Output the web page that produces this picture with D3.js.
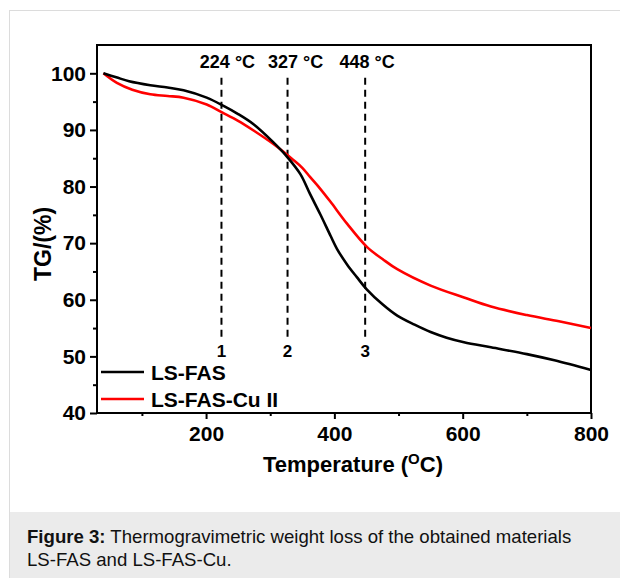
<!DOCTYPE html>
<html><head><meta charset="utf-8">
<script src="https://cdn.jsdelivr.net/npm/d3@7"></script>
<style>
body{margin:0;background:#fff;}
svg{display:block;font-family:"Liberation Sans",Arial,Helvetica,sans-serif;}
</style></head>
<body>
<script>
// Data
const tempLSFAS = [40,60,80,113,140,165,201,228,250,274,305,326,347,362,378,394,404,420,435,450,475,498,525,550,575,602,644,700,743,800];
const tgLSFAS   = [100,99.3,98.6,97.9,97.5,97.0,95.7,94.2,92.8,91.0,87.8,85.3,82.2,78.7,75.1,71.3,69.0,66.2,64.0,61.9,59.2,57.2,55.6,54.3,53.3,52.5,51.6,50.4,49.3,47.6];
const tempLSFASCu = [40,61,85,113,140,165,201,225,250,274,305,336,350,362,378,394,420,451,475,498,550,602,644,700,750,800];
const tgLSFASCu   = [100,98.3,97.1,96.3,96.0,95.7,94.5,93.1,91.6,89.9,87.5,84.7,83.3,81.7,79.6,77.3,73.4,69.3,67.2,65.4,62.5,60.4,58.8,57.3,56.2,55.0];
const seriesNames = ["LS-FAS","LS-FAS-Cu II"];
const seriesColors = ["#000000","#ff0000"];
const markerTemps = [224,327,448];
const markerLabels = ["224 \u00B0C","327 \u00B0C","448 \u00B0C"];
const markerNumbers = ["1","2","3"];
const xTicks = [200,400,600,800];
const xMinorTicks = [100,300,500,700];
const yTicks = [40,50,60,70,80,90,100];
const yMinorTicks = [45,55,65,75,85,95];

(function(){
const W = 620, H = 578;
const svg = d3.select("body").append("svg").attr("width",W).attr("height",H);

// frame and caption
svg.append("rect").attr("x",9.5).attr("y",10.5).attr("width",620).attr("height",580)
  .attr("fill","#fff").attr("stroke","#dcdcdc").attr("stroke-width",1);
svg.append("rect").attr("x",10).attr("y",512).attr("width",610).attr("height",66).attr("fill","#ebebeb");
const cap = svg.append("text").attr("x",27).attr("y",543).attr("font-size",18.6).attr("fill","#111");
cap.append("tspan").attr("font-weight","bold").text("Figure 3:");
cap.append("tspan").text(" Thermogravimetric weight loss of the obtained materials");
svg.append("text").attr("x",27).attr("y",566).attr("font-size",18.6).attr("fill","#111").text("LS-FAS and LS-FAS-Cu.");

const pL = 97, pR = 591, pT = 45, pB = 413;
const x = d3.scaleLinear().domain([30,800]).range([pL,pR]);
const y = d3.scaleLinear().domain([40,105]).range([pB,pT]);

const g = svg.append("g");

// box
g.append("rect").attr("x",pL).attr("y",pT).attr("width",pR-pL).attr("height",pB-pT)
  .attr("fill","none").attr("stroke","#000").attr("stroke-width",2);

// x axis
const xAxis = d3.axisBottom(x).tickValues(xTicks).tickSize(6).tickPadding(7).tickFormat(d3.format("d"));
const xa = g.append("g").attr("transform",`translate(0,${pB})`).call(xAxis);
const xm = g.append("g").attr("transform",`translate(0,${pB})`).call(d3.axisBottom(x).tickValues(xMinorTicks).tickSize(3).tickFormat(""));
// y axis
const yAxis = d3.axisLeft(y).tickValues(yTicks).tickSize(7).tickPadding(4).tickFormat(d3.format("d"));
const ya = g.append("g").attr("transform",`translate(${pL},0)`).call(yAxis);
const ym = g.append("g").attr("transform",`translate(${pL},0)`).call(d3.axisLeft(y).tickValues(yMinorTicks).tickSize(4).tickFormat(""));
[xa,xm,ya,ym].forEach(a=>{
  a.select(".domain").remove();
  a.selectAll("line").attr("stroke","#000").attr("stroke-width",2);
  a.selectAll("text").attr("font-size",21).attr("font-weight","bold").attr("fill","#000")
   .attr("font-family","'Liberation Sans',Arial,sans-serif");
});

// axis titles
const xt = g.append("text").attr("x",(pL+pR)/2+9).attr("y",472).attr("text-anchor","middle")
  .attr("font-size",22).attr("font-weight","bold");
xt.append("tspan").text("Temperature (");
xt.append("tspan").attr("font-size",15).attr("dy",-8).text("O");
xt.append("tspan").attr("dy",8).text("C)");
g.append("text").attr("transform","translate(51,244) rotate(-90)").attr("text-anchor","middle")
  .attr("font-size",23).attr("font-weight","bold").text("TG/(%)");

// dashed markers
const labelOffsets = [6,8,2];
markerTemps.forEach((t,i)=>{
  g.append("line").attr("x1",x(t)).attr("x2",x(t)).attr("y1",y(99.2)).attr("y2",y(53.1))
    .attr("stroke","#000").attr("stroke-width",2).attr("stroke-dasharray","7,5");
  g.append("text").attr("x",x(t)+labelOffsets[i]).attr("y",68).attr("text-anchor","middle")
    .attr("font-size",18).attr("font-weight","bold").text(markerLabels[i]);
  g.append("text").attr("x",x(t)).attr("y",357).attr("text-anchor","middle")
    .attr("font-size",17).attr("font-weight","bold").text(markerNumbers[i]);
});

// curves
const line = d3.line().x(d=>x(d[0])).y(d=>y(d[1])).curve(d3.curveCatmullRom.alpha(0.5));
const data = [d3.zip(tempLSFAS,tgLSFAS), d3.zip(tempLSFASCu,tgLSFASCu)];
[1,0].forEach(i=>{
  g.append("path").datum(data[i]).attr("d",line).attr("fill","none")
    .attr("stroke",seriesColors[i]).attr("stroke-width",2.6).attr("stroke-linejoin","round");
});

// legend
seriesNames.forEach((n,i)=>{
  const ly = 372 + i*27;
  g.append("line").attr("x1",101).attr("x2",144).attr("y1",ly).attr("y2",ly)
    .attr("stroke",seriesColors[i]).attr("stroke-width",2.6);
  g.append("text").attr("x",151).attr("y",ly+7.5).attr("font-size",21).attr("font-weight","bold").text(n);
});
})();
</script>
</body></html>
